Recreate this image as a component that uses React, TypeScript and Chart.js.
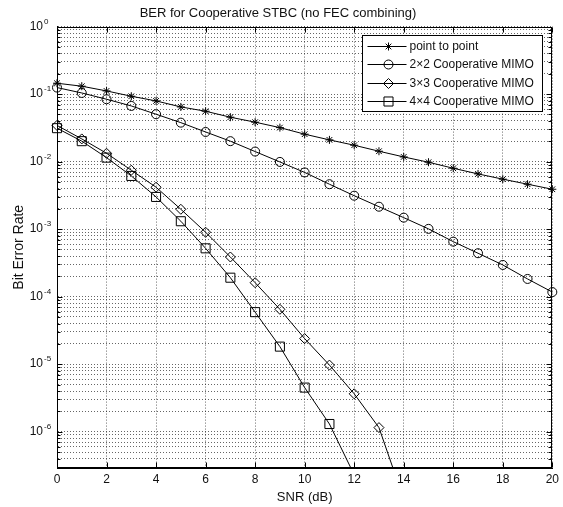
import React, { useEffect, useRef } from "react";
import { Chart, registerables } from "chart.js";
import { drawPoint } from "chart.js/helpers";

Chart.register(...registerables);

// ---- data ----
const snrDb = [0, 1, 2, 3, 4, 5, 6, 7, 8, 9, 10, 11, 12, 13, 14, 15, 16, 17, 18, 19, 20];
const pointToPoint = [0.145, 0.131, 0.1115, 0.093, 0.0793, 0.0646, 0.0558, 0.0455, 0.0384, 0.0319, 0.0255, 0.021, 0.0175, 0.01426, 0.01174, 0.0098, 0.00798, 0.00658, 0.0055, 0.00463, 0.0039];
const coop2x2 = [0.125, 0.104, 0.084, 0.0668, 0.0504, 0.0378, 0.0275, 0.0201, 0.0141, 0.0099, 0.00692, 0.00463, 0.00313, 0.00215, 0.00148, 0.00101, 0.000653, 0.00044, 0.000295, 0.000183, 0.000117];
const coop3x3 = [0.0344, 0.0217, 0.0133, 0.00746, 0.00418, 0.00197, 0.0009, 0.000387, 0.000161, 6.5e-5, 2.39e-5, 9.7e-6, 3.64e-6, 1.15e-6, 1.0e-7];
const coop4x4 = [0.0313, 0.0201, 0.01146, 0.00614, 0.003, 0.00131, 0.00052, 0.000191, 5.9e-5, 1.82e-5, 4.5e-6, 1.3e-6, 2.3e-7];
const seriesNames = ["point to point", "2×2 Cooperative MIMO", "3×3 Cooperative MIMO", "4×4 Cooperative MIMO"];
const yDecadeExponents = [0, -1, -2, -3, -4, -5, -6];
const xTickValues = [0, 2, 4, 6, 8, 10, 12, 14, 16, 18, 20];
const yMin = 2.9e-7;
const yMax = 1;
const chartTitle = "BER for Cooperative STBC (no FEC combining)";
const xTitle = "SNR (dB)";
const yTitle = "Bit Error Rate";

const FONT = '"Liberation Sans", Arial, Helvetica, sans-serif';

function toPoints(values: number[]) {
  return values.map((v, i) => ({ x: snrDb[i], y: v }));
}

function logTickValues(): number[] {
  const out: number[] = [];
  for (let e = -7; e <= 0; e++) {
    for (let m = 1; m <= 9; m++) {
      const v = m * Math.pow(10, e);
      if (v >= yMin * 0.9999 && v <= yMax * 1.0001) out.push(v);
    }
  }
  return out;
}

const matlabDecor = {
  id: "matlabDecor",
  afterDatasetsDraw(chart: any) {
    const { ctx, chartArea: a, scales } = chart;
    const xs = scales.x;
    const ys = scales.y;
    ctx.save();
    // frame
    ctx.strokeStyle = "#000";
    ctx.lineWidth = 1;
    ctx.setLineDash([]);
    const L = Math.round(a.left) + 0.5;
    const R = Math.round(a.right) - 0.5;
    const T = Math.round(a.top) + 0.5;
    const B = Math.round(a.bottom) - 0.5;
    ctx.strokeRect(L, T, R - L, B - T);
    // inward tick marks
    ctx.beginPath();
    for (const t of ys.ticks) {
      const y = Math.round(ys.getPixelForValue(t.value)) + 0.5;
      const e = Math.log10(t.value);
      const len = Math.abs(e - Math.round(e)) < 1e-6 ? 5 : 3;
      ctx.moveTo(L, y); ctx.lineTo(L + len, y);
      ctx.moveTo(R, y); ctx.lineTo(R - len, y);
    }
    for (const v of xTickValues) {
      const x = Math.round(xs.getPixelForValue(v)) + 0.5;
      ctx.moveTo(x, B); ctx.lineTo(x, B - 5);
      ctx.moveTo(x, T); ctx.lineTo(x, T + 5);
    }
    ctx.stroke();

    // legend box
    const boxW = 180, boxH = 76;
    const bx = Math.round(a.right) - 10 - boxW + 0.5;
    const by = Math.round(a.top) + 8 + 0.5;
    ctx.fillStyle = "#fff";
    ctx.fillRect(bx, by, boxW, boxH);
    ctx.strokeStyle = "#000";
    ctx.strokeRect(bx, by, boxW, boxH);
    chart.data.datasets.forEach((ds: any, i: number) => {
      const cy = Math.round(by + 10 + i * 18.5) + 0.5;
      ctx.strokeStyle = "#000";
      ctx.lineWidth = 1;
      ctx.beginPath();
      ctx.moveTo(bx + 5, cy);
      ctx.lineTo(bx + 44, cy);
      ctx.stroke();
      ctx.fillStyle = "rgba(0,0,0,0)";
      ctx.strokeStyle = "#000";
      drawPoint(ctx, { pointStyle: ds.pointStyle, radius: ds.pointRadius, rotation: 0, borderWidth: 1 }, bx + 26, cy);
      ctx.fillStyle = "#111";
      ctx.font = `12px ${FONT}`;
      ctx.textAlign = "left";
      ctx.textBaseline = "middle";
      ctx.fillText(ds.label, bx + 47, cy);
    });
    ctx.restore();
  },
  afterDraw(chart: any) {
    const { ctx, chartArea: a, scales } = chart;
    const ys = scales.y;
    ctx.save();
    ctx.fillStyle = "#111";
    for (const e of yDecadeExponents) {
      const y = ys.getPixelForValue(Math.pow(10, e));
      const xr = a.left - 14;
      ctx.font = `12px ${FONT}`;
      ctx.textAlign = "right";
      ctx.textBaseline = "middle";
      ctx.fillText("10", xr, y);
      ctx.font = `8px ${FONT}`;
      ctx.textAlign = "left";
      ctx.fillText(String(e), xr + 1, y - 5);
    }
    ctx.restore();
  },
};

export default function App() {
  const canvasRef = useRef<HTMLCanvasElement | null>(null);

  useEffect(() => {
    if (!canvasRef.current) return;
    const gridColor = "rgba(0,0,0,0.6)";
    const common = {
      borderColor: "#000",
      borderWidth: 1,
      backgroundColor: "rgba(0,0,0,0)",
      pointBorderColor: "#000",
      pointBackgroundColor: "rgba(0,0,0,0)",
      pointBorderWidth: 1,
      pointHoverRadius: 0,
      tension: 0,
      fill: false,
      clip: { left: 8, right: 8, top: 8, bottom: 0 },
    };
    const chart = new Chart(canvasRef.current, {
      type: "line",
      data: {
        datasets: [
          { ...common, label: seriesNames[0], data: toPoints(pointToPoint), pointStyle: "star", pointRadius: 4 },
          { ...common, label: seriesNames[1], data: toPoints(coop2x2), pointStyle: "circle", pointRadius: 4.5 },
          { ...common, label: seriesNames[2], data: toPoints(coop3x3), pointStyle: "rectRot", pointRadius: 5 },
          { ...common, label: seriesNames[3], data: toPoints(coop4x4), pointStyle: "rect", pointRadius: 6.4 },
        ] as any,
      },
      options: {
        responsive: false,
        animation: false,
        events: [],
        layout: { padding: { left: 0, right: 7, top: 0, bottom: 0 } },
        plugins: {
          legend: { display: false },
          tooltip: { enabled: false },
          title: {
            display: true,
            text: chartTitle,
            color: "#111",
            font: { family: FONT, size: 13, weight: "normal" as any },
            padding: { top: 6, bottom: 5 },
          },
        },
        scales: {
          x: {
            type: "linear",
            min: 0,
            max: 20,
            ticks: {
              stepSize: 2,
              color: "#111",
              font: { family: FONT, size: 12 },
              padding: 4,
              maxRotation: 0,
              autoSkip: false,
            },
            grid: { color: gridColor, lineWidth: 1, drawTicks: false },
            border: { display: true, color: "#000", width: 1, dash: [1, 2] },
            title: {
              display: true,
              text: xTitle,
              color: "#111",
              font: { family: FONT, size: 13 },
              padding: { top: 0, bottom: 2 },
            },
            afterFit: (s: any) => { s.height = 39; },
          },
          y: {
            type: "logarithmic",
            min: yMin,
            max: yMax,
            bounds: "data",
            afterBuildTicks: (s: any) => { s.ticks = logTickValues().map((v) => ({ value: v })); },
            ticks: { display: false, callback: () => "" },
            grid: { color: gridColor, lineWidth: 1, drawTicks: false },
            border: { display: true, color: "#000", width: 1, dash: [1, 2] },
            title: {
              display: true,
              text: yTitle,
              color: "#111",
              font: { family: FONT, size: 14 },
              padding: { top: 11, bottom: 0 },
            },
            afterFit: (s: any) => { s.width = 57; },
          },
        },
      } as any,
      plugins: [matlabDecor],
    });
    return () => chart.destroy();
  }, []);

  return (
    <div style={{ position: "absolute", left: 0, top: 0, width: 563, height: 507, background: "#fff" }}>
      <canvas ref={canvasRef} width={563} height={507} style={{ display: "block" }} />
    </div>
  );
}
